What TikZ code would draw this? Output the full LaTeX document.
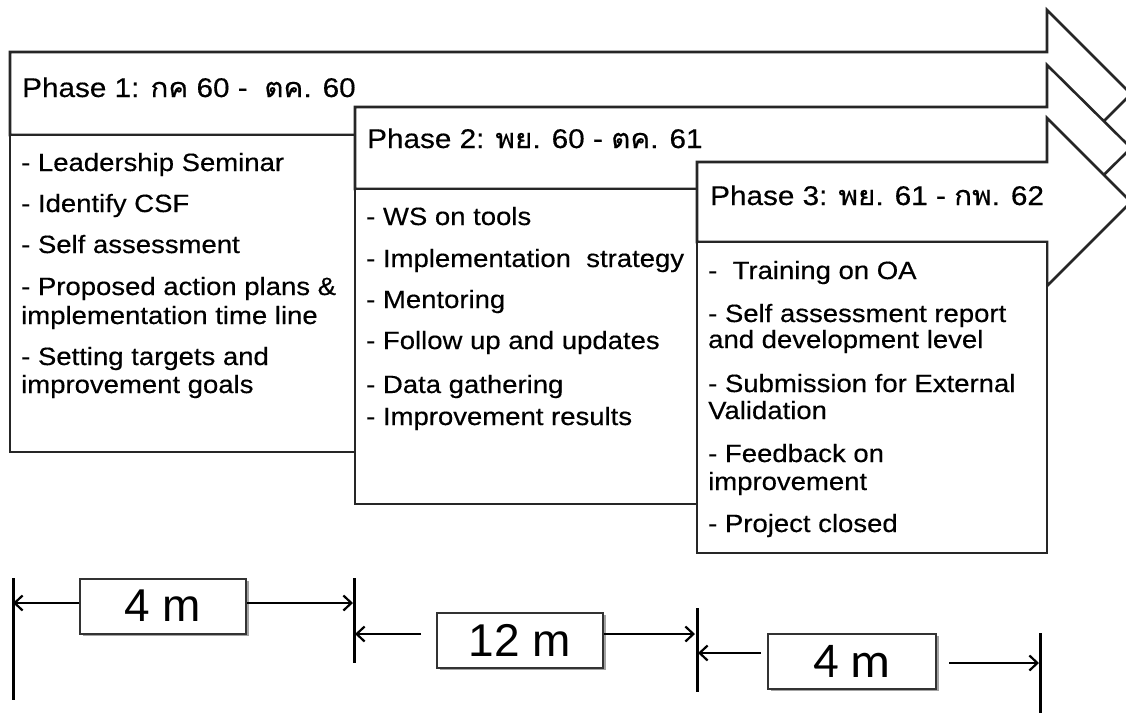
\documentclass[tikz,border=0pt]{standalone}
\usepackage{fontspec}
\setmainfont{Liberation Sans}[FakeStretch=1.1,FakeBold=0.4]
\newfontfamily\thai[Script=Thai,FakeStretch=1.1,FakeBold=0.4]{Loma}
\newfontfamily\plainsans{Liberation Sans}
\newfontfamily\calsans{Carlito}
\usetikzlibrary{arrows.meta,shadows}
\begin{document}
\begin{tikzpicture}[x=1pt,y=-1pt,line join=miter,
  outline/.style={draw=black!85,line width=2.6pt,fill=white},
  hdr/.style={anchor=base west,inner sep=0pt,font=\fontsize{27}{30}\selectfont},
  itm/.style={anchor=base west,inner sep=0pt,font=\fontsize{25}{28}\selectfont},
  mbox/.style={draw=black!80,line width=2pt,fill=white,minimum width=166pt,minimum height=55pt,inner sep=0pt,
    drop shadow={shadow xshift=2.5pt,shadow yshift=-2.5pt,fill=black!60,opacity=0.6}},
  dimarrow/.style={line width=2.2pt,-{Straight Barb[length=8pt,width=15pt]}},
  ticks/.style={line width=3pt}]
\useasboundingbox (0,0) rectangle (1126,713);
\clip (0,0) rectangle (1126,713);
\fill[white] (0,0) rectangle (1126,713);

% Phase 1 arrow and box
\draw[outline] (10,52) -- (1047,52) -- (1047,10) -- (1131,94) -- (1047,178) -- (1047,135) -- (10,135) -- cycle;
\draw[outline] (10,135) rectangle (355,452);
% Phase 2 arrow and box
\draw[outline] (355,107) -- (1047,107) -- (1047,65) -- (1131,148) -- (1047,231) -- (1047,189) -- (355,189) -- cycle;
\draw[outline] (355,189) rectangle (697,504);
% Phase 3 arrow and box
\draw[outline] (697,162) -- (1047,162) -- (1047,118) -- (1131,202) -- (1047,286) -- (1047,242) -- (697,242) -- cycle;
\draw[outline] (697,242) rectangle (1047,553);

% headers
\node[hdr] (h1) at (22,97) {Phase 1: {\thai กค} 60 -~ {\thai ตค.} 60};
\node[hdr] (h2) at (367,148) {Phase 2: {\thai พย.} 60 - {\thai ตค.} 61};
\node[hdr] (h3) at (710,205) {Phase 3: {\thai พย.} 61 - {\thai กพ.} 62};

% phase 1 items
\node[itm] (a1) at (21,171) {- Leadership Seminar};
\node[itm] (a2) at (21,212) {- Identify CSF};
\node[itm] (a3) at (21,253) {- Self assessment};
\node[itm] (a4) at (21,295) {- Proposed action plans \&};
\node[itm] (a5) at (21,324) {implementation time line};
\node[itm] (a6) at (21,365) {- Setting targets and};
\node[itm] (a7) at (21,393) {improvement goals};

% phase 2 items
\node[itm] (b1) at (366,225) {- WS on tools};
\node[itm] (b2) at (366,267) {- Implementation~ strategy};
\node[itm] (b3) at (366,308) {- Mentoring};
\node[itm] (b4) at (366,349) {- Follow up and updates};
\node[itm] (b5) at (366,393) {- Data gathering};
\node[itm] (b6) at (366,425) {- Improvement results};

% phase 3 items
\node[itm] (c1) at (708,279) {-~ Training on OA};
\node[itm] (c2) at (708,322) {- Self assessment report};
\node[itm] (c3) at (708,348) {and development level};
\node[itm] (c4) at (708,392) {- Submission for External};
\node[itm] (c5) at (708,419) {Validation};
\node[itm] (c6) at (708,462) {- Feedback on};
\node[itm] (c7) at (708,490) {improvement};
\node[itm] (c8) at (708,532) {- Project closed};

% duration markers
\coordinate (t1a) at (13,578); \coordinate (t1b) at (13,700);
\coordinate (t2a) at (354,578); \coordinate (t2b) at (354,663);
\coordinate (t3a) at (697,608); \coordinate (t3b) at (697,692);
\coordinate (t4a) at (1040,633); \coordinate (t4b) at (1040,713);
\draw[ticks] (t1a) -- (t1b);
\draw[ticks] (t2a) -- (t2b);
\draw[ticks] (t3a) -- (t3b);
\draw[ticks] (t4a) -- (t4b);

\node[mbox] (m1) at (163,606) {\plainsans\fontsize{46}{50}\selectfont 4 m};
\node[mbox] (m2) at (520,640) {\plainsans\fontsize{46}{50}\selectfont 12 m};
\node[mbox,minimum width=168pt] (m3) at (852,661) {\calsans\fontsize{50}{54}\selectfont 4 m};

\coordinate (e1l) at (13,603); \coordinate (e1r) at (353,603);
\coordinate (e2l) at (355,634); \coordinate (e2r) at (695,634);
\coordinate (e3l) at (698,653); \coordinate (e3r) at (1039,663);
\draw[dimarrow] (m1.west |- e1l) -- (e1l);
\draw[dimarrow] (m1.east |- e1r) -- (e1r);
\draw[dimarrow] ([xshift=-15pt]m2.west |- e2l) -- (e2l);
\draw[dimarrow] (m2.east |- e2r) -- (e2r);
\draw[dimarrow] ([xshift=-6pt]m3.west |- e3l) -- (e3l);
\draw[dimarrow] ([xshift=12pt]m3.east |- e3r) -- (e3r);
\end{tikzpicture}
\end{document}
